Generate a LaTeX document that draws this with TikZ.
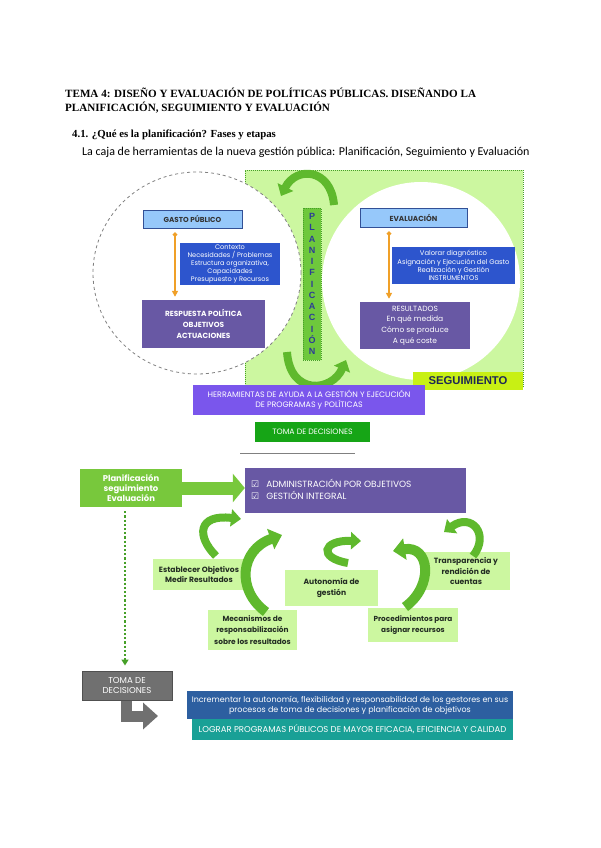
\documentclass[tikz,border=0pt]{standalone}
\usepackage{fontspec}
\setmainfont{Liberation Serif}
\newfontfamily\pop{Poppins}
\newfontfamily\carl{Carlito}
\newfontfamily\lib{Liberation Sans}
\newfontfamily\dvs{DejaVu Sans}
\usetikzlibrary{arrows.meta,shapes.geometric}
\definecolor{lgreen}{RGB}{204,247,160}
\definecolor{regborder}{RGB}{70,160,40}
\definecolor{arrowgreen}{RGB}{95,185,45}
\definecolor{bgreen}{RGB}{120,200,60}
\definecolor{lblue}{RGB}{150,200,250}
\definecolor{lbluedraw}{RGB}{50,80,150}
\definecolor{mblue}{RGB}{45,85,205}
\definecolor{purp}{RGB}{104,88,164}
\definecolor{herrpurp}{RGB}{122,86,236}
\definecolor{tomagreen}{RGB}{22,165,22}
\definecolor{planbar}{RGB}{110,200,60}
\definecolor{planletter}{RGB}{45,60,150}
\definecolor{seguiy}{RGB}{200,240,20}
\definecolor{seguitext}{RGB}{30,40,85}
\definecolor{orangeA}{RGB}{240,160,40}
\definecolor{grayA}{RGB}{112,112,112}
\definecolor{grayB}{RGB}{80,80,80}
\definecolor{incrblue}{RGB}{45,95,160}
\definecolor{teal}{RGB}{25,160,150}
\definecolor{darktext}{RGB}{35,45,35}
\tikzset{
  sz/.style 2 args={minimum width=#1pt, minimum height=#2pt},
  bx/.style={rectangle, inner sep=0pt, align=center, text=white},
  lbox/.style={bx, fill=lgreen, text=darktext},
  garrow/.style={line width=8pt, draw=arrowgreen, line cap=butt, -{Triangle[width=17pt,length=10pt]}},
  bigarrow/.style={line width=10pt, draw=arrowgreen, line cap=butt, -{Triangle[width=21pt,length=12pt]}},
  oarrow/.style={line width=1.6pt, draw=orangeA, {Circle[length=4.5pt]}-{Triangle[width=6pt,length=6pt]}},
}
\begin{document}
\begin{tikzpicture}[x=1pt,y=-1pt]
\useasboundingbox (0,0) rectangle (600,848);
\fill[white] (0,0) rectangle (600,848);

% ---------- titles
\node[anchor=west, inner sep=0pt, font=\fontsize{11.1}{13}\selectfont\bfseries] (t1) at (65,93) {TEMA 4: DISEÑO Y EVALUACIÓN DE POLÍTICAS PÚBLICAS. DISEÑANDO LA};
\node[anchor=west, inner sep=0pt, font=\fontsize{11.1}{13}\selectfont\bfseries] (t2) at (65,108) {PLANIFICACIÓN, SEGUIMIENTO Y EVALUACIÓN};
\node[anchor=west, inner sep=0pt, font=\fontsize{10.8}{12}\selectfont\bfseries] (t3) at (72,135) {4.1. ¿Qué es la planificación? Fases y etapas};
\node[anchor=west, inner sep=0pt, font=\fontsize{12}{14}\selectfont\carl] (t4) at (82,152) {La caja de herramientas de la nueva gestión pública: Planificación, Seguimiento y Evaluación};

% ---------- upper diagram
\node[rectangle, draw=regborder, densely dotted, line width=1pt, fill=lgreen, sz={278}{217}] (greg) at (384,278.5) {};
\node[ellipse, draw=gray, dashed, line width=0.8pt, fill=white, inner sep=0pt, sz={208}{202}] (lcirc) at (197,273) {};
\node[ellipse, fill=white, inner sep=0pt, sz={198}{198}] (rcirc) at (421,281) {};

\node[bx, fill=lblue, draw=lbluedraw, line width=0.8pt, text=black!80, sz={99}{18}, font=\pop\bfseries\fontsize{7.2}{8}\selectfont] (gasto) at (192.5,219) {GASTO PÚBLICO};
\node[bx, fill=mblue, sz={100}{42}, font=\pop\fontsize{6.6}{8}\selectfont] (ctx) at (230,264) {Contexto\\Necesidades / Problemas\\Estructura organizativa,\\Capacidades\\Presupuesto y Recursos};
\node[bx, fill=purp, sz={123}{48}, font=\pop\bfseries\fontsize{7.4}{11}\selectfont] (resp) at (203.5,324) {RESPUESTA POLÍTICA\\OBJETIVOS\\ACTUACIONES};

\node[bx, fill=lblue, draw=lbluedraw, line width=0.8pt, text=black!80, sz={107}{19}, font=\pop\bfseries\fontsize{7.3}{8}\selectfont] (eval) at (413.5,217.5) {EVALUACIÓN};
\node[bx, fill=mblue, sz={123}{37}, font=\pop\fontsize{6.8}{8.3}\selectfont] (valor) at (453.5,265.5) {Valorar diagnóstico\\Asignación y Ejecución del Gasto\\Realización y Gestión\\INSTRUMENTOS};
\node[bx, fill=purp, sz={110}{47}, font=\pop\fontsize{7.5}{10.6}\selectfont] (resul) at (415,325.5) {RESULTADOS\\En qué medida\\Cómo se produce\\A qué coste};

\coordinate (xo1) at (175,0);
\coordinate (xo2) at (389,0);
\draw[oarrow] (gasto.south -| xo1) ++(0,4) -- ([yshift=3pt]resp.north -| xo1);
\draw[oarrow] (eval.south -| xo2) ++(0,4) -- ([yshift=3pt]resul.north -| xo2);

\node[bx, fill=planbar, draw=regborder, densely dotted, line width=1pt, text=planletter, sz={18}{152}, font=\lib\bfseries\fontsize{9}{11.25}\selectfont] (planv) at (312,284) {P\\L\\A\\N\\I\\F\\I\\C\\A\\C\\I\\Ó\\N};

\draw[garrow] (334,205) .. controls (331,168) and (296,166) .. (281,196);
\draw[garrow] (287,352) .. controls (290,396) and (332,392) .. (346,360);

\node[bx, fill=seguiy, text=seguitext, sz={110}{18}, font=\lib\bfseries\fontsize{11.3}{12}\selectfont] (segui) at (468,381) {SEGUIMIENTO};
\node[bx, fill=herrpurp, sz={232}{30}, font=\pop\fontsize{7.9}{10}\selectfont] (herr) at (309,400) {HERRAMIENTAS DE AYUDA A LA GESTIÓN Y EJECUCIÓN\\DE PROGRAMAS y POLÍTICAS};
\node[bx, fill=tomagreen, sz={115}{20}, font=\pop\fontsize{7.8}{8}\selectfont] (toma) at (312.5,432) {TOMA DE DECISIONES};
\coordinate (rl) at (240,453);
\coordinate (rr) at (355,453);
\draw[gray, line width=0.8pt] (rl) -- (rr);

% ---------- lower diagram
\node[bx, fill=bgreen, sz={102}{38}, font=\pop\bfseries\fontsize{8.4}{10}\selectfont] (planb) at (131,488) {Planificación\\seguimiento\\Evaluación};
\node[bx, fill=purp, sz={221}{45}] (admin) at (355.5,490.5) {};
\node[anchor=west, align=left, text=white, inner sep=0pt, font=\pop\fontsize{9}{12}\selectfont] (admintext) at (251,489) {{\dvs ☑}\hspace{7pt}ADMINISTRACIÓN POR OBJETIVOS\\{\dvs ☑}\hspace{7pt}GESTIÓN INTEGRAL};
\draw[line width=13pt, draw=bgreen, -{Triangle[width=28pt,length=12pt]}] (planb.east) -- (planb.east -| admin.west);

\node[lbox, sz={92}{31}, font=\pop\bfseries\fontsize{7.6}{10}\selectfont] (estab) at (199,574.5) {Establecer Objetivos\\Medir Resultados};
\node[lbox, sz={93}{36}, font=\pop\bfseries\fontsize{7.6}{11}\selectfont] (auto) at (331.5,588) {Autonomía de\\gestión};
\node[lbox, sz={88}{38}, font=\pop\bfseries\fontsize{7.6}{10.5}\selectfont] (transp) at (466,571) {Transparencia y\\rendición de\\cuentas};
\node[lbox, sz={89}{40}, font=\pop\bfseries\fontsize{7.4}{11.5}\selectfont] (mecan) at (252.5,630) {Mecanismos de\\responsabilización\\sobre los resultados};
\node[lbox, sz={90}{34}, font=\pop\bfseries\fontsize{7.3}{10.5}\selectfont] (proc) at (413,625) {Procedimientos para\\asignar recursos};

\draw[garrow] (216,556) .. controls (196,536) and (198,514) .. (241,519);
\draw[bigarrow] (266,612) .. controls (236,590) and (240,550) .. (282,535);
\draw[garrow] (348,563) .. controls (318,558) and (322,540) .. (361,541);
\draw[bigarrow] (405,607) .. controls (434,586) and (430,545) .. (393,551);
\draw[garrow] (473,556) .. controls (490,535) and (472,512) .. (444,532);

\node[bx, fill=grayA, draw=grayB, line width=1pt, sz={90}{29}, font=\pop\fontsize{8.6}{10}\selectfont] (toma2) at (127,685.5) {TOMA DE\\DECISIONES};
\coordinate (xd) at (125,0);
\draw[regborder, dotted, line width=2.2pt, -{Triangle[width=7pt,length=6pt]}, shorten <=4pt] (planb.south -| xd) -- ([yshift=5pt]toma2.north -| xd);
\coordinate (gtip) at (158,716);
\coordinate (xg) at (126,0);
\draw[line width=11pt, draw=grayA, -{Triangle[width=26pt,length=15pt]}] (toma2.south -| xg) |- (gtip);

\node[bx, fill=incrblue, sz={326}{28}, font=\pop\fontsize{8}{10}\selectfont] (incr) at (350,705) {Incrementar la autonomía, flexibilidad y responsabilidad de los gestores en sus\\procesos de toma de decisiones y planificación de objetivos};
\node[bx, fill=teal, sz={321}{21}, font=\pop\fontsize{8.5}{9}\selectfont] (lograr) at (352.5,729.5) {LOGRAR PROGRAMAS PÚBLICOS DE MAYOR EFICACIA, EFICIENCIA Y CALIDAD};
\end{tikzpicture}
\end{document}
